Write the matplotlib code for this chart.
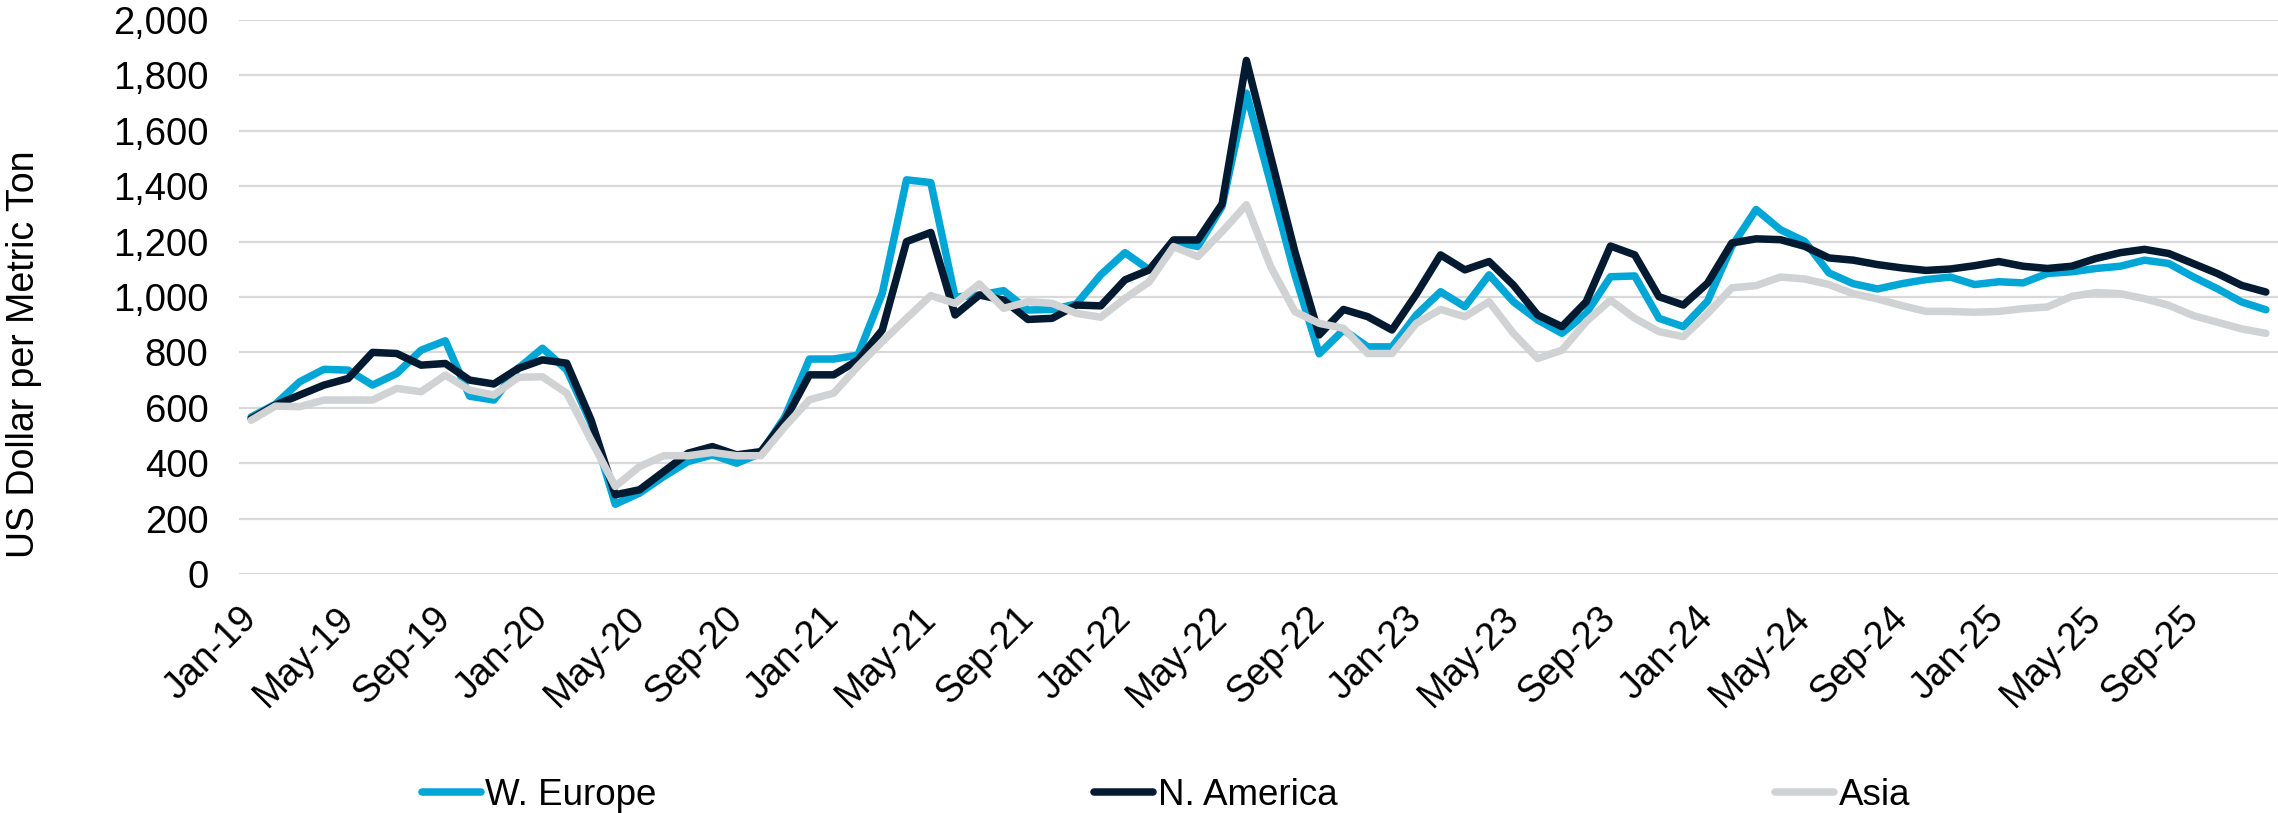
import matplotlib
matplotlib.use("Agg")
import matplotlib.pyplot as plt
import pandas as pd

# monthly series, Jan-19 .. Dec-25 (US$ per metric ton)
months = pd.date_range("2019-01-01", "2025-12-01", freq="MS")
labels = [d.strftime("%b-%y") for d in months]

w_europe = [
    567, 613, 694, 739, 736, 682, 724, 808, 842, 642, 628, 742,
    815, 737, 545, 252, 292, 352, 406, 430, 400, 436, 569, 776,
    776, 790, 1013, 1423, 1413, 1000, 1007, 1023, 953, 955, 975, 1080,
    1160, 1098, 1200, 1182, 1327, 1736, 1410, 1080, 795, 881, 820, 820,
    935, 1019, 965, 1080, 983, 917, 869, 941, 1073, 1076, 923, 893,
    985, 1183, 1316, 1243, 1201, 1087, 1048, 1029, 1048, 1063, 1072, 1045,
    1055, 1051, 1085, 1091, 1103, 1111, 1133, 1121, 1073, 1030, 982, 954,
]
n_america = [
    561, 610, 646, 682, 706, 800, 796, 754, 760, 700, 686, 742,
    773, 761, 557, 286, 304, 370, 436, 460, 430, 442, 557, 719,
    719, 772, 881, 1200, 1233, 935, 1007, 989, 919, 923, 971, 968,
    1062, 1098, 1206, 1206, 1336, 1854, 1508, 1163, 863, 955, 929, 881,
    1010, 1152, 1098, 1128, 1043, 935, 893, 983, 1184, 1152, 1001, 971,
    1050, 1195, 1210, 1207, 1183, 1141, 1133, 1117, 1105, 1096, 1101, 1113,
    1128, 1111, 1103, 1111, 1139, 1160, 1172, 1157, 1121, 1085, 1042, 1018,
]
asia = [
    555, 606, 604, 628, 628, 628, 670, 658, 718, 664, 646, 710,
    712, 653, 484, 316, 388, 427, 427, 439, 427, 427, 533, 629,
    653, 750, 839, 923, 1005, 977, 1047, 959, 983, 977, 941, 927,
    995, 1055, 1182, 1146, 1236, 1333, 1110, 947, 905, 887, 796, 796,
    905, 955, 929, 983, 869, 778, 808, 911, 989, 923, 875, 857,
    940, 1033, 1041, 1072, 1065, 1045, 1012, 993, 969, 948, 948, 945,
    948, 958, 964, 1002, 1016, 1012, 994, 970, 933, 909, 885, 869,
]

series = [
    ("W. Europe", w_europe, "#00A6D6"),
    ("N. America", n_america, "#031A30"),
    ("Asia", asia, "#D0D2D3"),
]

plt.rcParams["font.family"] = ["Liberation Sans", "DejaVu Sans"]

W, H = 2278, 813
fig = plt.figure(figsize=(W / 100, H / 100), dpi=100)
ax = fig.add_axes([239 / W, (H - 574) / H, (W - 239) / W, (574 - 20) / H])

x = list(range(len(labels)))
for name, vals, col in series:
    ax.plot(x, vals, color=col, lw=5.4, label=name,
            solid_capstyle="round", solid_joinstyle="round")

ax.set_xlim(-0.5, len(labels) - 0.5)
ax.set_ylim(0, 2000)
ax.set_yticks(range(0, 2001, 200))
ax.set_yticklabels([f"{v:,}" for v in range(0, 2001, 200)])
ax.set_xticks(x[::4])
ax.set_xticklabels(labels[::4], rotation=45, ha="right", va="center",
                   rotation_mode="anchor")
ax.tick_params(axis="x", length=0, pad=28, labelsize=27)
ax.tick_params(axis="y", length=0, pad=22, labelsize=27.5)
ax.grid(axis="y", color="#D9D9D9", lw=1.6)
ax.set_axisbelow(True)
for s in ax.spines.values():
    s.set_visible(False)

fig.text(24 / W, 1 - 354 / H, "US Dollar per Metric Ton", rotation=90,
         ha="center", va="center", fontsize=27)

fig.legend(loc="center", bbox_to_anchor=(1166 / W, 1 - 795 / H), ncol=3,
           frameon=False, fontsize=26.5, handlelength=1.6, handletextpad=0.12,
           columnspacing=11.9, borderpad=0)

fig.savefig("out.png", dpi=100, facecolor="white")
